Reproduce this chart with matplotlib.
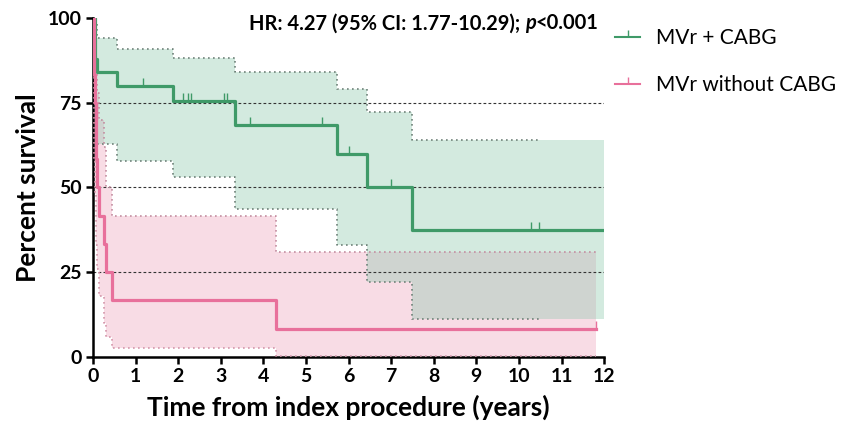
import numpy as np
import matplotlib.pyplot as plt
from matplotlib.lines import Line2D

plt.rcParams['font.family'] = ['Lato', 'DejaVu Sans']

# MVr + CABG (Kaplan-Meier steps, 95% CI, censored times)
green_t = [0, 0.05, 0.10, 0.56, 1.88, 3.33, 5.73, 6.43, 7.49]
green_s = [100, 88, 84, 80, 75.4, 68.5, 60, 50, 37.5]
green_hi = [100, 99, 94, 91, 88.2, 84, 79, 72.3, 64]
green_lo = [100, 74, 62.8, 57.8, 53.1, 43.7, 33, 22.1, 11.2]
green_cens = [1.17, 2.11, 2.23, 2.30, 3.07, 3.14, 3.69, 5.38, 6.0, 7.0, 10.28, 10.47]
green_end = 12.0

# MVr without CABG
pink_t = [0, 0.02, 0.03, 0.05, 0.06, 0.08, 0.09, 0.14, 0.26, 0.30, 0.45, 4.30]
pink_s = [100, 91.7, 83.3, 75, 66.7, 58.3, 50, 41.7, 33.3, 25, 16.7, 8.3]
pink_hi = [100, 100, 99, 96, 90, 84, 78, 70, 62, 50, 41.5, 31]
pink_lo = [100, 70, 58, 48, 40, 33, 26, 18, 10, 6, 2.5, 0.3]
pink_cens = [11.8]
pink_end = 11.8

GREEN = '#3f9a68'
PINK = '#e8709b'


def step_at(t, v, x):
    idx = np.searchsorted(t, x, side='right') - 1
    return np.asarray(v, dtype=float)[idx]


grid = np.unique(np.concatenate([green_t, pink_t, [pink_end, green_end]]))
gg = grid[grid <= green_end]
gp = grid[grid <= pink_end]

fig = plt.figure(figsize=(8.45, 4.4), dpi=100)
ax = fig.add_axes([0.110, 0.189, 0.605, 0.770])

# confidence bands
ax.fill_between(gp, step_at(pink_t, pink_lo, gp), step_at(pink_t, pink_hi, gp),
                step='post', color='#f8dce5', lw=0, zorder=1)
ax.fill_between(gg, step_at(green_t, green_lo, gg), step_at(green_t, green_hi, gg),
                step='post', color='#d3eadf', lw=0, zorder=1)
ov_lo = np.maximum(step_at(green_t, green_lo, gp), step_at(pink_t, pink_lo, gp))
ov_hi = np.minimum(step_at(green_t, green_hi, gp), step_at(pink_t, pink_hi, gp))
ov_hi = np.where(ov_hi > ov_lo, ov_hi, ov_lo)
ax.fill_between(gp, ov_lo, ov_hi, step='post', color='#cfd4d0', lw=0, zorder=1)

# reference lines
for y in [25, 50, 75]:
    ax.plot([0, 12], [y, y], color='#333333', lw=0.8, ls=(0, (2.5, 2)), zorder=2)

# CI dotted borders
for t, v, end, c in [(green_t, green_hi, 10.47, '#6f8279'), (green_t, green_lo, 10.47, '#6f8279'),
                     (pink_t, pink_hi, pink_end, '#c48ea1'), (pink_t, pink_lo, pink_end, '#d497ab')]:
    xs = np.append(t, end)
    ys = np.append(v, v[-1])
    ax.plot(xs, ys, drawstyle='steps-post', color=c, lw=1.2, ls=(0, (1, 2)), zorder=3)

# survival curves
ax.plot(np.append(green_t, green_end), np.append(green_s, green_s[-1]),
        drawstyle='steps-post', color=GREEN, lw=2.3, zorder=4)
ax.plot(np.append(pink_t, pink_end), np.append(pink_s, pink_s[-1]),
        drawstyle='steps-post', color=PINK, lw=2.3, zorder=4)
ax.plot(green_cens, step_at(green_t, green_s, green_cens), ls='none', marker=2,
        ms=6, mew=1.0, color=GREEN, zorder=5)
ax.plot(pink_cens, step_at(pink_t, pink_s, pink_cens), ls='none', marker=2,
        ms=6, mew=1.0, color=PINK, zorder=5)

ax.set_xlim(0, 12)
ax.set_ylim(0, 100)
ax.set_xticks(range(0, 13))
ax.set_yticks([0, 25, 50, 75, 100])
for s in ['top', 'right']:
    ax.spines[s].set_visible(False)
for s in ['left', 'bottom']:
    ax.spines[s].set_linewidth(1.8)
ax.tick_params(direction='out', length=5, width=1.8, labelsize=14, pad=3)
for lab in ax.get_xticklabels() + ax.get_yticklabels():
    lab.set_fontweight('bold')

ax.set_xlabel('Time from index procedure (years)', fontsize=19, fontweight='bold', labelpad=7)
ax.set_ylabel('Percent survival', fontsize=19, fontweight='bold', labelpad=6)

# HR annotation
t1 = ax.text(0.305, 0.955, 'HR: 4.27 (95% CI: 1.77-10.29); ', transform=ax.transAxes,
             fontsize=14.5, fontweight='bold', va='bottom', ha='left')
t2 = ax.annotate('p', xy=(1, 0), xycoords=t1, fontsize=14.5, fontweight='bold',
                 fontstyle='italic', va='bottom', ha='left')
ax.annotate('<0.001', xy=(1, 0), xycoords=t2, fontsize=14.5, fontweight='bold',
            va='bottom', ha='left')

handles = [Line2D([], [], color=GREEN, lw=1.5, marker=2, ms=5, mew=1.0),
           Line2D([], [], color=PINK, lw=1.5, marker=2, ms=5, mew=1.0)]
ax.legend(handles, ['MVr + CABG', 'MVr without CABG'], loc='upper left',
          bbox_to_anchor=(0.985, 1.025), frameon=False, fontsize=15,
          handlelength=1.2, handletextpad=0.75, labelspacing=1.3)

fig.savefig('out.png', dpi=100)
